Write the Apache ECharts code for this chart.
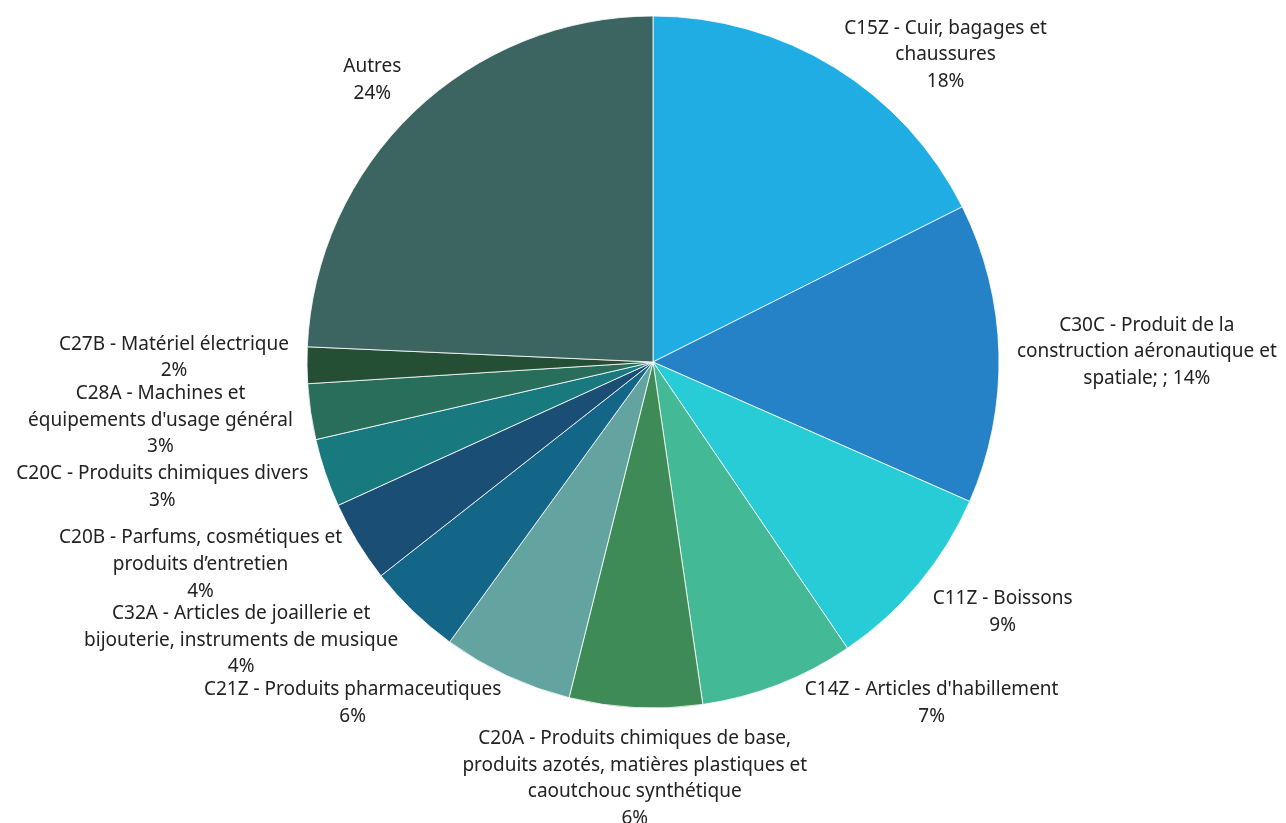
<!DOCTYPE html>
<html>
<head>
<meta charset="utf-8">
<script src="https://cdn.jsdelivr.net/npm/echarts@6/dist/echarts.min.js"></script>
<style>
  html, body { margin: 0; padding: 0; background: #fff; }
  #chart { width: 1286px; height: 823px; }
</style>
</head>
<body>
<div id="chart"></div>
<script>
// sectors, clockwise from 12 o'clock
var categories = [
  'C15Z - Cuir, bagages et\nchaussures',
  'C30C - Produit de la\nconstruction aéronautique et\nspatiale;',
  'C11Z - Boissons',
  "C14Z - Articles d'habillement",
  'C20A - Produits chimiques de base,\nproduits azotés, matières plastiques et\ncaoutchouc synthétique',
  'C21Z - Produits pharmaceutiques',
  'C32A - Articles de joaillerie et\nbijouterie, instruments de musique',
  'C20B - Parfums, cosmétiques et\nproduits d’entretien',
  'C20C - Produits chimiques divers',
  "C28A - Machines et\néquipements d'usage général",
  'C27B - Matériel électrique',
  'Autres'
]
var shares = [17.6, 14.0, 8.9, 7.2, 6.2, 6.1, 4.4, 3.8, 3.2, 2.6, 1.7, 24.3]
var colors = ['#1fade3', '#2582c6', '#27ccd6', '#44b996', '#3f8b57', '#63a4a0',
  '#136687', '#1b4e75', '#187a7f', '#286e5a', '#244f34', '#3c6461']

var CX = 653, CY = 362, R = 346
var GAP = 18, TOL = 2
var FONT = 'Noto Sans', FS = 19, LH = 26.6

var total = shares.reduce(function (s, v) { return s + v }, 0)

function labelText(i) {
  var name = categories[i]
  var sep = name.slice(-1) === ';' ? ' ; ' : '\n'
  return name + sep + Math.round(shares[i] / total * 100) + '%'
}

// horizontal push of the box off its anchor
function push(t) {
  var a = Math.min(1, Math.max(0, (Math.abs(t) - 0.08) * 2.3))
  return t < 0 ? -a : a
}

// text boxes are a little looser than the glyphs
function overlaps(a, b) {
  return Math.abs(a.x - b.x) < (a.w + b.w) / 2 && Math.abs(a.y - b.y) < (a.h + b.h) / 2 - 2 * TOL
}

// put labels outside the slices, like an office "best fit" layout
function placeLabels() {
  var ctx = document.createElement('canvas').getContext('2d')
  ctx.font = FS + 'px "' + FONT + '"'
  var acc = 0
  var boxes = shares.map(function (v, i) {
    var mid = (acc + v / 2) / total * 2 * Math.PI
    acc += v
    var lines = labelText(i).split('\n')
    var w = Math.max.apply(null, lines.map(function (l) { return ctx.measureText(l).width }))
    var h = lines.length * LH
    var dx = Math.sin(mid), dy = -Math.cos(mid)
    var px = CX + (R + GAP) * dx, py = CY + (R + GAP) * dy
    var b = { i: i, dx: dx, dy: dy, w: w, h: h, x: px + push(dx) * w / 2, y: py + dy * h / 2 }
    if (b.y - h / 2 < 15) b.y = 15 + h / 2
    return b
  })
  var order = boxes.slice().sort(function (a, b) { return b.y - a.y })
  var done = []
  order.forEach(function (b) {
    for (var k = 0; k < 10; k++) {
      var hit = null
      done.forEach(function (o) { if (!hit && overlaps(b, o)) hit = o })
      if (!hit) break
      var d = (hit.h + b.h) / 2 - 2 * TOL
      b.y = b.y <= hit.y ? hit.y - d : hit.y + d
      // keep the box off the disc
      var rr = R + 3
      var top = b.y - b.h / 2, bot = b.y + b.h / 2
      var ny = Math.min(Math.max(CY, top), bot) - CY
      if (Math.abs(ny) < rr) {
        var s = b.dx < 0 ? -1 : 1
        var need = Math.sqrt(rr * rr - ny * ny)
        var near = b.x - s * b.w / 2 - CX
        if (s * near < need) b.x = CX + s * need + s * b.w / 2
      }
    }
    done.push(b)
  })
  var out = []
  boxes.forEach(function (b) { out[b.i] = b })
  return out
}

var placed = placeLabels()

var chart = echarts.init(document.getElementById('chart'))

chart.setOption({
  backgroundColor: '#fff',
  color: colors,
  animation: false,
  series: [{
    type: 'pie',
    center: [CX, CY],
    radius: R,
    startAngle: 90,
    clockwise: true,
    avoidLabelOverlap: false,
    itemStyle: {
      borderColor: '#fff',
      borderWidth: 0.8
    },
    labelLine: { show: false, length: 10, length2: 10 },
    label: {
      show: true,
      position: 'outside',
      fontFamily: FONT,
      fontSize: FS,
      color: '#222',
      formatter: function (p) {
        return labelText(p.dataIndex).split('\n').map(function (l) { return '{c|' + l + '}' }).join('\n')
      },
      rich: {
        c: { align: 'center', fontFamily: FONT, fontSize: FS, lineHeight: LH, color: '#222' }
      }
    },
    labelLayout: function (p) {
      var b = placed[p.dataIndex]
      return { x: b.x, y: b.y, align: 'center', verticalAlign: 'middle', hideOverlap: false }
    },
    data: categories.map(function (n, i) { return { name: n, value: shares[i] } })
  }]
})
</script>
</body>
</html>
